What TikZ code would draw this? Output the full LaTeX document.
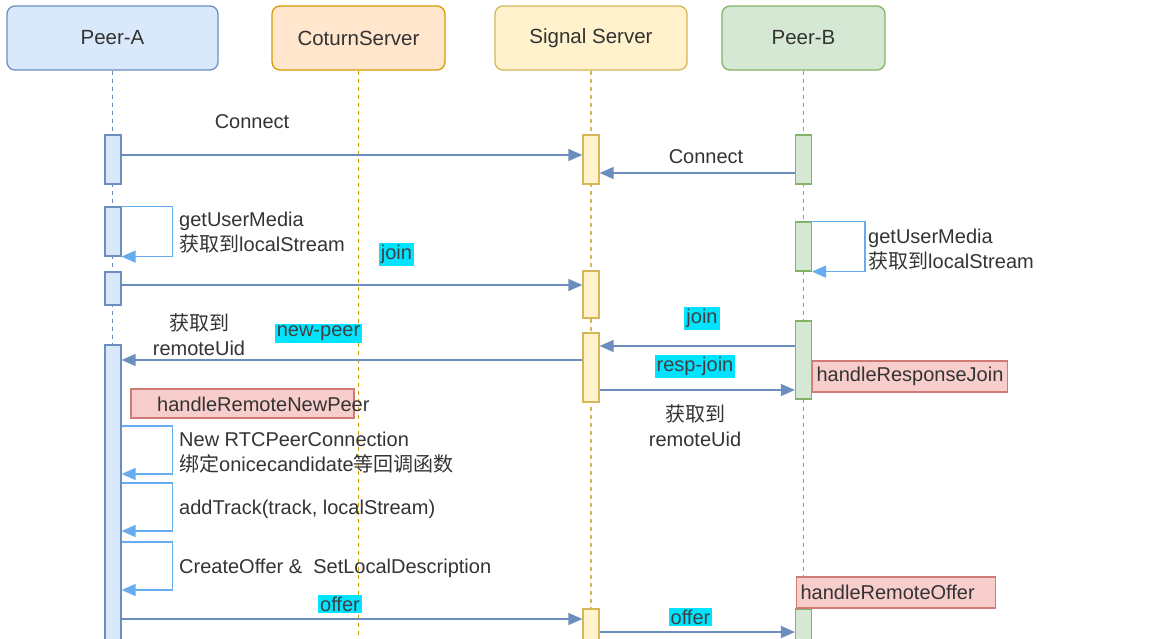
\documentclass[tikz,border=0pt]{standalone}
\usepackage{fontspec}
\setmainfont{Liberation Sans}
\newfontfamily\cjk{Noto Sans CJK SC}
\usetikzlibrary{arrows.meta}

\definecolor{blueFill}{HTML}{DAE8FC}
\definecolor{blueLine}{HTML}{6C8EBF}
\definecolor{orangeFill}{HTML}{FFE6CC}
\definecolor{orangeLine}{HTML}{D79B00}
\definecolor{yellowFill}{HTML}{FFF2CC}
\definecolor{yellowLine}{HTML}{D6B656}
\definecolor{greenFill}{HTML}{D5E8D4}
\definecolor{greenLine}{HTML}{82B366}
\definecolor{redFill}{HTML}{F8CECC}
\definecolor{redLine}{HTML}{D07A76}
\definecolor{loopLine}{RGB}{102,172,240}
\definecolor{tagCyan}{RGB}{0,228,255}
\definecolor{txt}{HTML}{333333}

\tikzset{
  head/.style={draw, rounded corners=8pt, line width=1.3pt, minimum height=64pt,
    font=\fontsize{20.5}{24}\selectfont, text=txt},
  bar/.style={draw, line width=1.2pt, minimum width=16pt, inner sep=0pt},
  life/.style={dash pattern=on 4pt off 4pt, line width=1.1pt},
  msg/.style={draw=blueLine, line width=1.4pt, -{Triangle[length=14pt,width=12pt]}},
  selfmsg/.style={draw=loopLine, line width=1.4pt, -{Triangle[length=14pt,width=12pt]}},
  lbl/.style={font=\fontsize{20}{25}\selectfont, text=txt, inner sep=0pt},
  tag/.style={lbl, fill=tagCyan, inner sep=2pt, text=black!75},
  note/.style={draw=redLine, fill=redFill, line width=1.2pt, lbl, inner sep=4pt}
}

\begin{document}
\begin{tikzpicture}[x=1pt, y=-1pt]
  \useasboundingbox (0,0) rectangle (1151,638);

  % Participants
  \node[head, fill=blueFill, draw=blueLine, minimum width=211pt] (peerA) at (112.5,38) {Peer-A};
  \node[head, fill=orangeFill, draw=orangeLine, minimum width=173pt] (coturn) at (358.5,38) {CoturnServer};
  \node[head, fill=yellowFill, draw=yellowLine, minimum width=192pt] (signal) at (591,38) {Signal Server};
  \node[head, fill=greenFill, draw=greenLine, minimum width=163pt] (peerB) at (803.5,38) {Peer-B};

  % Lifelines
  \draw[life, blueLine] (peerA.south) -- (112.5,645);
  \draw[life, orangeLine, line width=1.4pt] (coturn.south) -- (358.5,645);
  \draw[life, yellowLine] (signal.south) -- (591,645);
  \draw[life, greenLine] (peerB.south) -- (803.5,645);

  % Activation bars
  \node[bar, fill=blueFill, draw=blueLine, minimum height=49pt] (a1) at (113,159.5) {};
  \node[bar, fill=blueFill, draw=blueLine, minimum height=49pt] (a2) at (113,231.5) {};
  \node[bar, fill=blueFill, draw=blueLine, minimum height=33pt] (a3) at (113,288.5) {};
  \node[bar, fill=blueFill, draw=blueLine, minimum height=300pt] (a4) at (113,495) {};
  \node[bar, fill=yellowFill, draw=yellowLine, minimum height=49pt] (s1) at (591,159.5) {};
  \node[bar, fill=yellowFill, draw=yellowLine, minimum height=47pt] (s2) at (591,294.5) {};
  \node[bar, fill=yellowFill, draw=yellowLine, minimum height=69pt] (s3) at (591,367.5) {};
  \node[bar, fill=yellowFill, draw=yellowLine, minimum height=41pt] (s4) at (591,629.5) {};
  \node[bar, fill=greenFill, draw=greenLine, minimum height=49pt] (b1) at (803.5,159.5) {};
  \node[bar, fill=greenFill, draw=greenLine, minimum height=49pt] (b2) at (803.5,246.5) {};
  \node[bar, fill=greenFill, draw=greenLine, minimum height=78pt] (b3) at (803.5,360) {};
  \node[bar, fill=greenFill, draw=greenLine, minimum height=41pt] (b4) at (803.5,629.5) {};

  % Messages
  \draw[msg] (a1.east |- 0,155) -- (s1.west |- 0,155);      % connect A
  \draw[msg] (b1.west |- 0,173) -- (s1.east |- 0,173);      % connect B
  \draw[selfmsg] (a2.north east) -- ++(51,0) |- (a2.south east);
  \draw[msg] (a3.east |- 0,285) -- (s2.west |- 0,285);      % join A
  \draw[selfmsg] (b2.north east) -- ++(53,0) |- (b2.south east);
  \draw[msg] (b3.west |- 0,346) -- (s3.east |- 0,346);      % join B
  \draw[msg] (s3.west |- 0,360) -- (a4.east |- 0,360);      % new-peer
  \draw[msg] (s3.east |- 0,390) -- (b3.west |- 0,390);      % resp-join
  \draw[selfmsg] (a4.east |- 0,426) -- ++(51,0) |- (a4.east |- 0,474);
  \draw[selfmsg] (a4.east |- 0,483) -- ++(51,0) |- (a4.east |- 0,531);
  \draw[selfmsg] (a4.east |- 0,542) -- ++(51,0) |- (a4.east |- 0,590);
  \draw[msg] (a4.east |- 0,619) -- (s4.west |- 0,619);      % offer A
  \draw[msg] (s4.east |- 0,632) -- (b4.west |- 0,632);      % offer B

  % Notes
  \node[note, minimum width=223pt, minimum height=29pt] (hnpBox) at (242.5,403.5) {};
  \node[lbl, anchor=west] (hnp) at (157,404) {handleRemoteNewPeer};
  \node[note, anchor=west, minimum height=31pt] (hrj) at (812,376.5) {handleResponseJoin};
  \node[note, anchor=west, text width=191pt, align=left, minimum height=31pt] (hro) at (796,592.5) {handleRemoteOffer};

  % Labels
  \node[lbl] (conA) at (252,122) {Connect};
  \node[lbl] (conB) at (706,157) {Connect};
  \node[lbl, anchor=west, align=left] (gumA) at (179,232.5) {getUserMedia\\{\cjk 获取到}localStream};
  \node[lbl, anchor=west, align=left] (gumB) at (868,250) {getUserMedia\\{\cjk 获取到}localStream};
  \node[tag] (joinA) at (396.5,254.5) {join};
  \node[tag] (joinB) at (702,318.5) {join};
  \node[tag] (newPeer) at (318.5,333.5) {new-peer};
  \node[lbl, align=center] (uidA) at (199,334.5) {{\cjk 获取到}\\remoteUid};
  \node[tag] (respJoin) at (695,366.5) {resp-join};
  \node[lbl, align=center] (uidB) at (695,425.5) {{\cjk 获取到}\\remoteUid};
  \node[lbl, anchor=west, align=left] (newPc) at (179,452.5) {New RTCPeerConnection\\{\cjk 绑定}onicecandidate{\cjk 等回调函数}};
  \node[lbl, anchor=west] (addTrack) at (179,509) {addTrack(track, localStream)};
  \node[lbl, anchor=west] (offerDesc) at (179,568) {CreateOffer \& \ SetLocalDescription};
  \node[tag] (offerA) at (340,604) {offer};
  \node[tag] (offerB) at (690.5,617) {offer};
\end{tikzpicture}
\end{document}
